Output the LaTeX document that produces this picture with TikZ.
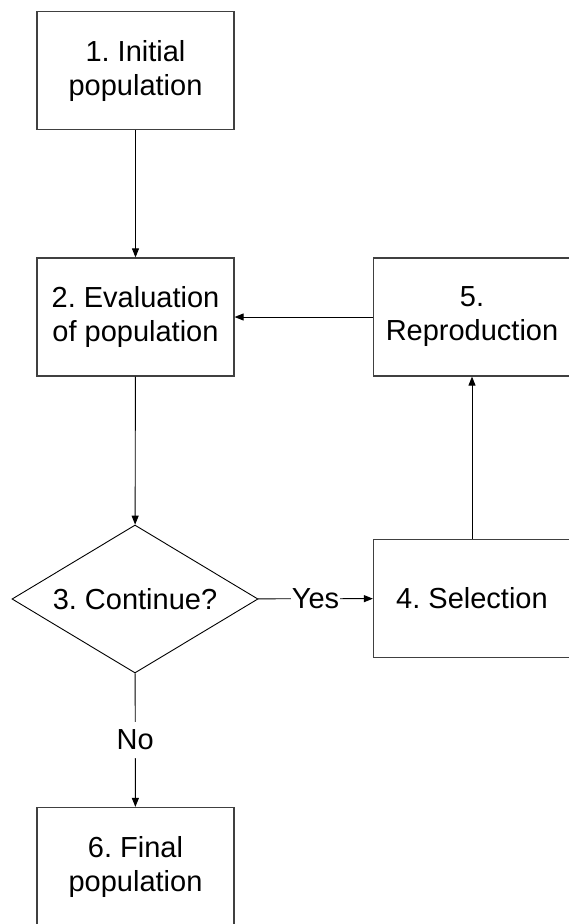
\documentclass[tikz,border=0pt]{standalone}
\usepackage{fontspec}
\setmainfont{Liberation Sans}
\usetikzlibrary{shapes.geometric,arrows.meta}
\frenchspacing

\begin{document}
\begin{tikzpicture}[x=1pt, y=-1pt, -{Triangle[length=9pt,width=7pt]}, line width=0.9pt]
\tikzset{
    stepbox/.style= {rectangle, draw=black!75, line width=1.2pt, minimum width=197pt, minimum height=118pt, align=center, font=\fontsize{29}{34}\selectfont},
    decision/.style= {diamond, draw=black, line width=0.9pt, aspect=1.66, minimum width=246pt, minimum height=148pt, inner sep=0pt, font=\fontsize{29}{34}\selectfont},
    lbl/.style= {fill=white, inner xsep=1pt, inner ysep=8pt, font=\fontsize{29}{34}\selectfont},
}
\useasboundingbox (0,0) rectangle (568,924);

\node[stepbox] (init) at (135.5,70.5) {1. Initial\\population};
\node[stepbox] (eval) at (135.5,317) {2. Evaluation\\of population};
\node[decision] (cont) at (135,599) {3. Continue?};
\node[stepbox] (sel) at (472,598.5) {4. Selection};
\node[stepbox] (repr) at (472,317) {5.\\Reproduction};
\node[stepbox] (final) at (135.5,866.5) {6. Final\\population};

\draw
(init) edge (eval)
(eval) edge (cont)
(cont) edge node[lbl] {Yes} (sel)
(sel) edge (repr)
(repr) edge (eval)
(cont) edge node[lbl] {No} (final);
\end{tikzpicture}
\end{document}
